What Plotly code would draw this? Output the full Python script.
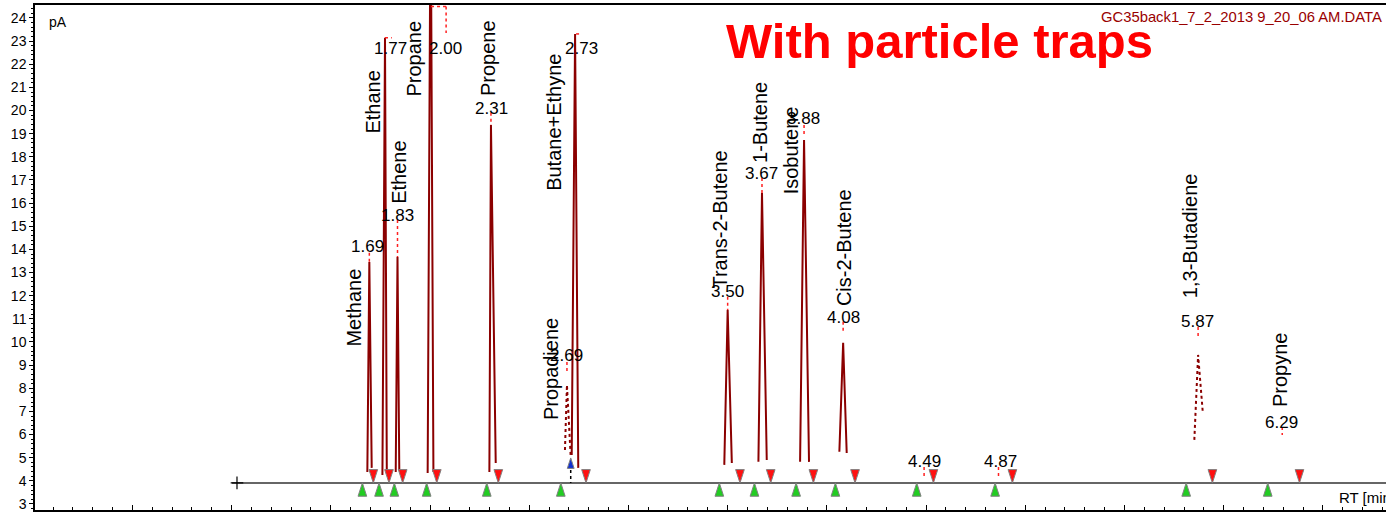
import plotly.graph_objects as go

FONT = "Liberation Sans, Arial, Helvetica, sans-serif"

# ---------------- data ----------------
# Peaks (retention time in min, signal in pA)
PEAK_START = [1.684, 1.760, 1.827, 1.988, 2.299, 2.680, 2.714, 3.483, 3.655, 3.865, 4.063, 5.852]
PEAK_APEX = [1.694, 1.773, 1.836, 2.003, 2.307, 2.690, 2.731, 3.500, 3.673, 3.885, 4.082, 5.871]
PEAK_END = [1.706, 1.782, 1.845, 2.017, 2.331, 2.709, 2.747, 3.521, 3.697, 3.910, 4.100, 5.895]
PEAK_HEIGHT = [13.45, 23.14, 13.67, 30.0, 19.38, 8.14, 23.31, 11.38, 16.44, 18.73, 9.96, 9.44]
PEAK_FLOOR_L = [4.38, 4.25, 4.38, 4.34, 4.38, 5.33, 5.12, 4.69, 4.82, 4.82, 5.26, 5.77]
PEAK_FLOOR_R = [4.56, 4.47, 4.47, 4.38, 4.77, 5.03, 4.56, 4.77, 4.90, 4.82, 5.20, 6.92]
PEAK_DOTTED = [False, False, False, False, False, True, False, False, False, False, False, True]

# Retention-time labels
RT_LABELS = ["1.69", "1.77", "1.83", "2.00", "2.31", "2.69", "2.73", "3.50",
             "3.67", "3.88", "4.08", "4.49", "4.87", "5.87", "6.29"]
RT_LABEL_X = [1.687, 1.803, 1.834, 2.078, 2.310, 2.688, 2.761, 3.497,
              3.671, 3.883, 4.082, 4.492, 4.875, 5.866, 6.289]
RT_LABEL_Y = [14.13, 22.66, 15.45, 22.66, 20.07, 9.40, 22.66, 12.20,
              17.26, 19.64, 11.06, 4.815, 4.815, 10.87, 6.52]

# Compound names
COMPOUNDS = ["Methane", "Ethane", "Ethene", "Propane", "Propene", "Propadiene",
             "Butane+Ethyne", "Trans-2-Butene", "1-Butene", "Isobutene",
             "Cis-2-Butene", "1,3-Butadiene", "Propyne"]
COMPOUND_X = [1.617, 1.713, 1.846, 1.917, 2.295, 2.610, 2.625, 3.459,
              3.666, 3.817, 4.084, 5.831, 6.284]
COMPOUND_Y = [11.49, 20.35, 17.33, 22.23, 22.25, 8.83, 19.47, 15.27,
              19.49, 18.26, 14.08, 14.58, 8.79]

# Apex marks (red dotted)
APEX_MARK_X = [1.694, 1.836, 2.307, 2.690, 3.500, 3.673, 3.885, 4.082, 4.490, 4.865, 5.871, 6.295]
APEX_MARK_TOP = [13.85, 15.27, 19.90, 9.14, 11.95, 17.09, 19.38, 10.87, 4.60, 4.60, 10.65, 6.33]
APEX_MARK_BOTTOM = [13.41, 13.67, 19.38, 8.70, 11.38, 16.44, 18.86, 10.39, 4.17, 4.17, 10.22, 5.98]
FLAT_MARK_X0 = [1.773, 2.736, 2.005]
FLAT_MARK_X1 = [1.807, 2.765, 2.081]
FLAT_MARK_Y = [23.14, 23.31, 24.50]
PROPANE_MARK_BOTTOM = 23.35

# Integration start / end markers
START_MARKS = [1.659, 1.743, 1.820, 1.983, 2.286, 2.659, 3.458, 3.635, 3.845,
               4.043, 4.453, 4.848, 5.811, 6.222]
END_MARKS = [1.714, 1.793, 1.862, 2.034, 2.344, 2.786, 3.562, 3.717, 3.932,
             4.142, 4.537, 4.935, 5.943, 6.382]
BASELINE_LEVEL = 3.91
BASELINE_START = 1.002
BASELINE_END = 6.9
BASELINE_CROSS = 1.027
BLUE_MARK_X = 2.709
BLUE_MARK_Y = 4.99
BLUE_LINE_TOP = 4.47

X_RANGE = [0.009, 6.818]
Y_RANGE = [2.74, 24.56]

# ---------------- figure ----------------
fig = go.Figure()

PEAK_COLOR = "#8b0000"

# baseline
fig.add_trace(go.Scatter(x=[BASELINE_START, BASELINE_END], y=[BASELINE_LEVEL, BASELINE_LEVEL],
                         mode="lines", line=dict(color="#333333", width=1.5),
                         hoverinfo="skip"))
fig.add_trace(go.Scatter(x=[BASELINE_CROSS], y=[BASELINE_LEVEL], mode="markers",
                         marker=dict(symbol="cross-thin", size=9,
                                     line=dict(color="#000000", width=1.2)),
                         hoverinfo="skip"))

# peaks
for s, a, e, h, fl, fr, dotted in zip(PEAK_START, PEAK_APEX, PEAK_END, PEAK_HEIGHT,
                                      PEAK_FLOOR_L, PEAK_FLOOR_R, PEAK_DOTTED):
    fig.add_trace(go.Scatter(x=[s, a, e], y=[fl, h, fr], mode="lines",
                             line=dict(color=PEAK_COLOR, width=2,
                                       dash="dot" if dotted else "solid"),
                             hoverinfo="skip"))

# apex marks
mx, my = [], []
for x, t, b in zip(APEX_MARK_X, APEX_MARK_TOP, APEX_MARK_BOTTOM):
    mx += [x, x, None]
    my += [t, b, None]
for x0, x1, y in zip(FLAT_MARK_X0, FLAT_MARK_X1, FLAT_MARK_Y):
    mx += [x0, x1, None]
    my += [y, y, None]
mx += [FLAT_MARK_X1[-1], FLAT_MARK_X1[-1]]
my += [FLAT_MARK_Y[-1], PROPANE_MARK_BOTTOM]
fig.add_trace(go.Scatter(x=mx, y=my, mode="lines",
                         line=dict(color="#ff2020", width=1.5, dash="dot"),
                         hoverinfo="skip"))

# blue marker with dotted drop line
fig.add_trace(go.Scatter(x=[BLUE_MARK_X, BLUE_MARK_X], y=[BLUE_LINE_TOP, BASELINE_LEVEL],
                         mode="lines", line=dict(color="#000000", width=1.5, dash="dot"),
                         hoverinfo="skip"))
fig.add_trace(go.Scatter(x=[BLUE_MARK_X], y=[BLUE_MARK_Y], mode="markers",
                         marker=dict(symbol="arrow", angle=0, size=11, color="#1030d0",
                                     line=dict(color="#808080", width=1)),
                         hoverinfo="skip"))

# start / end markers
fig.add_trace(go.Scatter(x=START_MARKS, y=[BASELINE_LEVEL] * len(START_MARKS), mode="markers",
                         marker=dict(symbol="arrow", angle=0, size=14, color="#22cc22",
                                     line=dict(color="#808080", width=1)),
                         hoverinfo="skip"))
fig.add_trace(go.Scatter(x=END_MARKS, y=[BASELINE_LEVEL] * len(END_MARKS), mode="markers",
                         marker=dict(symbol="arrow", angle=180, size=14, color="#ff1010",
                                     line=dict(color="#808080", width=1)),
                         hoverinfo="skip"))

annotations = []
for txt, x, y in zip(RT_LABELS, RT_LABEL_X, RT_LABEL_Y):
    annotations.append(dict(x=x, y=y, xref="x", yref="y", text=txt, showarrow=False,
                            xanchor="center", yanchor="middle",
                            font=dict(family=FONT, size=17, color="#000000")))
for txt, x, y in zip(COMPOUNDS, COMPOUND_X, COMPOUND_Y):
    annotations.append(dict(x=x, y=y, xref="x", yref="y", text=txt, showarrow=False,
                            textangle=-90, xanchor="center", yanchor="middle",
                            font=dict(family=FONT, size=20, color="#000000")))

annotations += [
    dict(x=0.068, y=23.83, xref="x", yref="y", text="pA", showarrow=False,
         xanchor="left", yanchor="middle", font=dict(family=FONT, size=14, color="#000000")),
    dict(x=6.572, y=3.30, xref="x", yref="y", text="RT [min]", showarrow=False,
         xanchor="left", yanchor="middle", font=dict(family=FONT, size=15, color="#000000")),
    dict(x=1.0, y=24.05, xref="paper", yref="y", xshift=-2, text="GC35back1_7_2_2013 9_20_06 AM.DATA",
         showarrow=False, xanchor="right", yanchor="middle",
         font=dict(family=FONT, size=14.8, color="#990000")),
    dict(x=4.566, y=23.01, xref="x", yref="y", text="<b>With particle traps</b>", showarrow=False,
         xanchor="center", yanchor="middle", font=dict(family=FONT, size=49, color="#ff0000")),
]

fig.update_layout(
    width=1386, height=512,
    margin=dict(l=35, r=0, t=5, b=2),
    paper_bgcolor="white", plot_bgcolor="white",
    showlegend=False,
    annotations=annotations,
    font=dict(family=FONT, color="#000000"),
    xaxis=dict(range=X_RANGE, showline=True, linecolor="#000000", linewidth=1.5, mirror=True,
               ticks="inside", ticklen=5, tickwidth=1, tickcolor="#000000",
               tick0=0, dtick=0.5, showticklabels=False, showgrid=False, zeroline=False,
               minor=dict(ticks="inside", ticklen=3, tickwidth=1, tickcolor="#000000",
                          dtick=0.1, tick0=0, showgrid=False)),
    yaxis=dict(range=Y_RANGE, showline=True, linecolor="#000000", linewidth=1.5,
               ticks="outside", ticklen=4, tickwidth=1, tickcolor="#000000",
               tick0=0, dtick=1, tickfont=dict(family=FONT, size=14, color="#000000"),
               showgrid=False, zeroline=False,
               minor=dict(ticks="outside", ticklen=2, tickwidth=1, tickcolor="#000000",
                          dtick=0.2, tick0=0, showgrid=False)),
)

fig.write_html("out.html")
